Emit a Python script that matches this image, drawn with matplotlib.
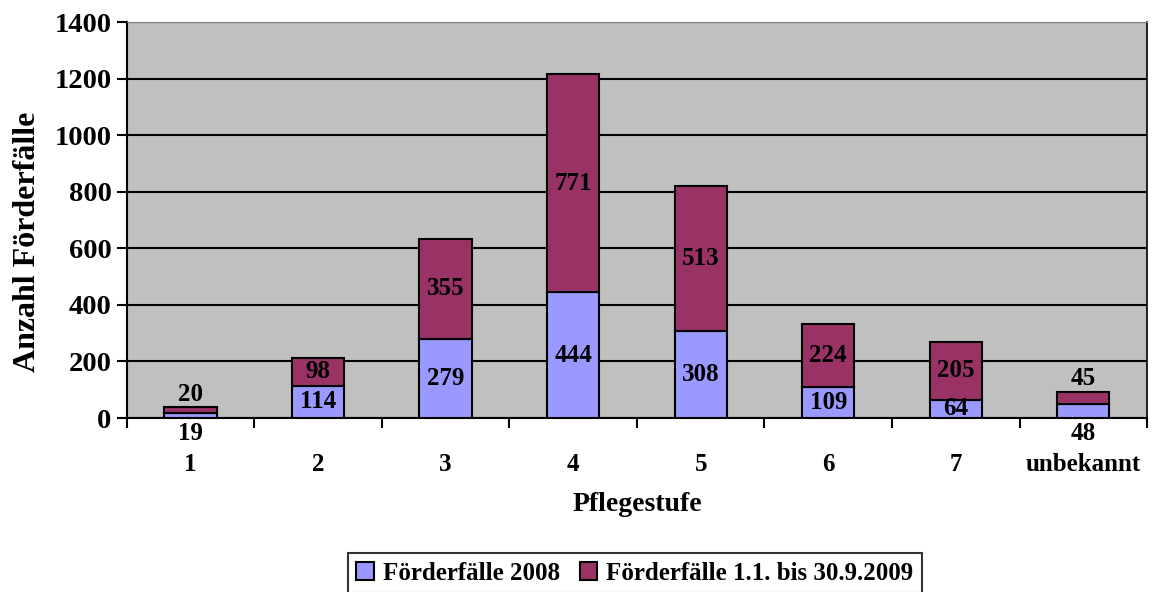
import matplotlib
matplotlib.use("Agg")
import matplotlib.pyplot as plt
import numpy as np

# Förderfälle nach Pflegestufe
stufen = ["1", "2", "3", "4", "5", "6", "7", "unbekannt"]
faelle_2008 = [19, 114, 279, 444, 308, 109, 64, 48]
faelle_2009 = [20, 98, 355, 771, 513, 224, 205, 45]

plt.rcParams['font.family'] = ['Liberation Serif', 'DejaVu Serif']
plt.rcParams['font.weight'] = 'bold'

fs = 18
fig = plt.figure(figsize=(11.52, 5.92), dpi=100)
ax = fig.add_axes([0.110, 0.2939, 0.8857, 0.6689])
ax.set_facecolor('#c0c0c0')

x = np.arange(len(stufen))
w = 0.41
b1 = ax.bar(x, faelle_2008, w, color='#9999ff', edgecolor='black', linewidth=1.5,
            label='Förderfälle 2008', zorder=3)
b2 = ax.bar(x, faelle_2009, w, bottom=faelle_2008, color='#993366', edgecolor='black',
            linewidth=1.5, label='Förderfälle 1.1. bis 30.9.2009', zorder=3)

# Werte in die Segmente schreiben, kleine Werte ausserhalb
for i in range(len(stufen)):
    v1, v2 = faelle_2008[i], faelle_2009[i]
    if v1 < 50:
        ax.annotate(str(v1), (x[i], 0), xytext=(0, -3), textcoords='offset points',
                    ha='center', va='top', fontsize=fs, fontweight='bold')
    else:
        ax.text(x[i], v1 / 2, str(v1), ha='center', va='center', fontsize=fs,
                fontweight='bold', zorder=4)
    if v2 < 50:
        ax.annotate(str(v2), (x[i], v1 + v2), xytext=(0, 1), textcoords='offset points',
                    ha='center', va='bottom', fontsize=fs, fontweight='bold')
    else:
        ax.text(x[i], v1 + v2 / 2, str(v2), ha='center', va='center', fontsize=fs,
                fontweight='bold', zorder=4)

ax.set_xlim(-0.5, len(stufen) - 0.5)
ax.set_ylim(0, 1400)
ax.set_yticks(np.arange(0, 1401, 200))
ax.grid(axis='y', color='black', linewidth=1.5, zorder=1)
ax.set_axisbelow(True)

ax.set_xticks(x)
ax.set_xticklabels(stufen)
ax.set_xticks(np.arange(-0.5, len(stufen), 1), minor=True)
ax.tick_params(axis='x', which='major', length=0, pad=25, labelsize=fs)
ax.tick_params(axis='x', which='minor', length=7, width=1.5, direction='out')
ax.tick_params(axis='y', length=7, width=1.5, direction='out', labelsize=20.5, pad=4)

for s in ['left', 'bottom']:
    ax.spines[s].set_linewidth(1.5)
ax.spines['top'].set_color('#808080')
ax.spines['right'].set_color('black')
ax.spines['right'].set_linewidth(1.2)

ax.set_xlabel('Pflegestufe', fontsize=20, fontweight='bold', labelpad=12)
fig.text(28 / 1152, 1 - 242 / 592, 'Anzahl Förderfälle', rotation=90,
         ha='center', va='center', fontsize=23, fontweight='bold')

leg = fig.legend(handles=[b1, b2], loc='upper center', bbox_to_anchor=(0.551, 0.066),
                 ncol=2, fontsize=fs, frameon=True, fancybox=False, shadow=False,
                 handlelength=0.7, handleheight=0.7, handletextpad=0.35,
                 columnspacing=0.8, borderpad=0.35, borderaxespad=0)
leg.get_frame().set_edgecolor('black')
leg.get_frame().set_linewidth(1.5)

fig.savefig('out.png', dpi=100)
